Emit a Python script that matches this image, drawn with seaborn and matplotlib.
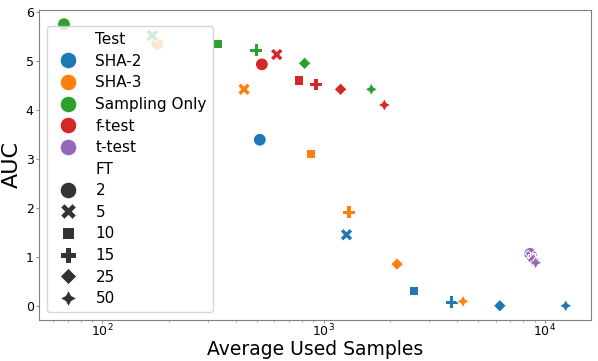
import pandas as pd
import matplotlib
matplotlib.use("Agg")
import matplotlib.pyplot as plt
import seaborn as sns

# values
tests = ["SHA-2", "SHA-3", "Sampling Only", "f-test", "t-test"]
ft_values = [2, 5, 10, 15, 25, 50]

samples_sha2 = [515, 1270, 2540, 3775, 6270, 12450]
auc_sha2 = [3.39, 1.45, 0.32, 0.08, 0.0, 0.0]

samples_sha3 = [177, 437, 873, 1297, 2150, 4275]
auc_sha3 = [5.35, 4.42, 3.11, 1.92, 0.85, 0.09]

samples_sampling = [67, 168, 333, 494, 821, 1644]
auc_sampling = [5.75, 5.52, 5.35, 5.23, 4.95, 4.42]

samples_ftest = [526, 614, 771, 920, 1194, 1884]
auc_ftest = [4.93, 5.13, 4.61, 4.53, 4.42, 4.10]

samples_ttest = [8600, 8700, 8800, 8800, 8900, 9100]
auc_ttest = [1.06, 1.0, 0.97, 0.95, 0.93, 0.88]


def build_frame():
    rows = []
    all_samples = [samples_sha2, samples_sha3, samples_sampling, samples_ftest, samples_ttest]
    all_auc = [auc_sha2, auc_sha3, auc_sampling, auc_ftest, auc_ttest]
    for test, xs, ys in zip(tests, all_samples, all_auc):
        for ft, x, y in zip(ft_values, xs, ys):
            rows.append({"Test": test, "FT": ft, "Average Used Samples": x, "AUC": y})
    return pd.DataFrame(rows)


df = build_frame()

fig = plt.figure(figsize=(5.98, 3.61), dpi=100)
ax = fig.add_axes([0.065, 0.114, 0.923, 0.858])

sns.scatterplot(data=df, x="Average Used Samples", y="AUC",
                hue="Test", hue_order=tests,
                style="FT", style_order=ft_values,
                s=85, ax=ax)

ax.set_xscale("log")
ax.set_xlabel("Average Used Samples", fontsize=13.5)
ax.set_ylabel("AUC", fontsize=16)
ax.xaxis.set_label_coords(0.5, -0.066)
ax.yaxis.set_label_coords(-0.03, 0.5)
ax.tick_params(which="both", labelsize=9, colors="0.5", labelcolor="black", pad=1.5)
ax.tick_params(axis="x", which="both", pad=0.2)
ax.tick_params(which="major", length=2.2, width=0.6)
ax.tick_params(which="minor", length=1.3, width=0.5)
for sp in ax.spines.values():
    sp.set_color("0.5")

ax.legend(loc="lower left", fontsize=11, markerscale=1.3, labelspacing=0.43)

fig.savefig("out.png", dpi=100)
